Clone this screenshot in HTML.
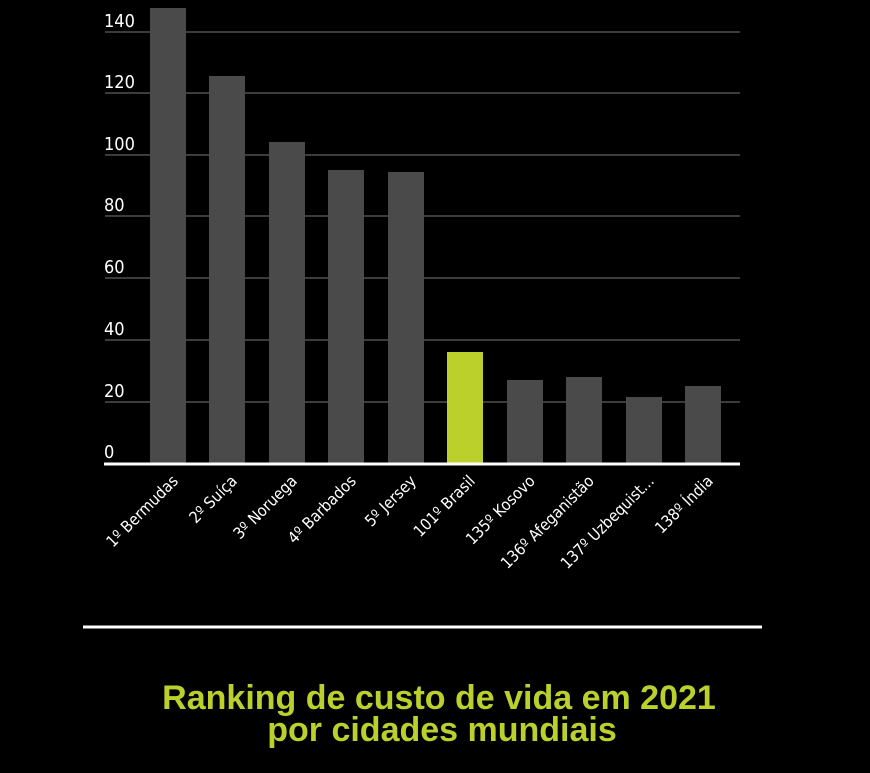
<!DOCTYPE html>
<html><head><meta charset="utf-8"><style>
html,body{margin:0;padding:0;background:#000;width:870px;height:773px;overflow:hidden}
</style></head><body>
<svg width="870" height="773" viewBox="0 0 870 773" xmlns="http://www.w3.org/2000/svg">
<rect width="870" height="773" fill="#000"/>
<g stroke="#3c3c3c" stroke-width="2">
<line x1="105" y1="32" x2="740" y2="32"/>
<line x1="105" y1="93" x2="740" y2="93"/>
<line x1="105" y1="155" x2="740" y2="155"/>
<line x1="105" y1="216" x2="740" y2="216"/>
<line x1="105" y1="278" x2="740" y2="278"/>
<line x1="105" y1="340" x2="740" y2="340"/>
<line x1="105" y1="402" x2="740" y2="402"/>
</g>
<g font-family="DejaVu Sans Condensed, Liberation Sans Narrow, sans-serif" font-size="18" fill="#fff">
<text x="104" y="27">140</text>
<text x="104" y="88">120</text>
<text x="104" y="150">100</text>
<text x="104" y="211">80</text>
<text x="104" y="273">60</text>
<text x="104" y="335">40</text>
<text x="104" y="397">20</text>
<text x="104" y="458">0</text>
</g>
<g fill="#4a4a4a">
<rect x="150" y="8" width="36" height="456"/>
<rect x="209" y="76" width="36" height="388"/>
<rect x="269" y="142" width="36" height="322"/>
<rect x="328" y="170" width="36" height="294"/>
<rect x="388" y="172" width="36" height="292"/>
<rect x="447" y="352" width="36" height="112" fill="#bcd02b"/>
<rect x="507" y="380" width="36" height="84"/>
<rect x="566" y="377" width="36" height="87"/>
<rect x="626" y="397" width="36" height="67"/>
<rect x="685" y="386" width="36" height="78"/>
</g>
<line x1="104" y1="464" x2="740" y2="464" stroke="#fff" stroke-width="3"/>
<g font-family="DejaVu Sans Condensed, Liberation Sans Narrow, sans-serif" font-size="16" fill="#fff" text-anchor="end">
<text transform="translate(179,482) rotate(-45)">1º Bermudas</text>
<text transform="translate(238,482) rotate(-45)">2º Suíça</text>
<text transform="translate(298,482) rotate(-45)">3º Noruega</text>
<text transform="translate(357,482) rotate(-45)">4º Barbados</text>
<text transform="translate(417,482) rotate(-45)">5º Jersey</text>
<text transform="translate(476,482) rotate(-45)">101º Brasil</text>
<text transform="translate(536,482) rotate(-45)">135º Kosovo</text>
<text transform="translate(595,482) rotate(-45)">136º Afeganistão</text>
<text transform="translate(655,482) rotate(-45)">137º Uzbequist...</text>
<text transform="translate(714,482) rotate(-45)">138º Índia</text>
</g>
<line x1="83" y1="627" x2="762" y2="627" stroke="#fff" stroke-width="3"/>
<g font-family="Liberation Sans, sans-serif" font-size="34" font-weight="bold" fill="#bcd02b" text-anchor="middle">
<text x="439" y="709">Ranking de custo de vida em 2021</text>
<text x="442" y="741">por cidades mundiais</text>
</g>
</svg>
</body></html>
